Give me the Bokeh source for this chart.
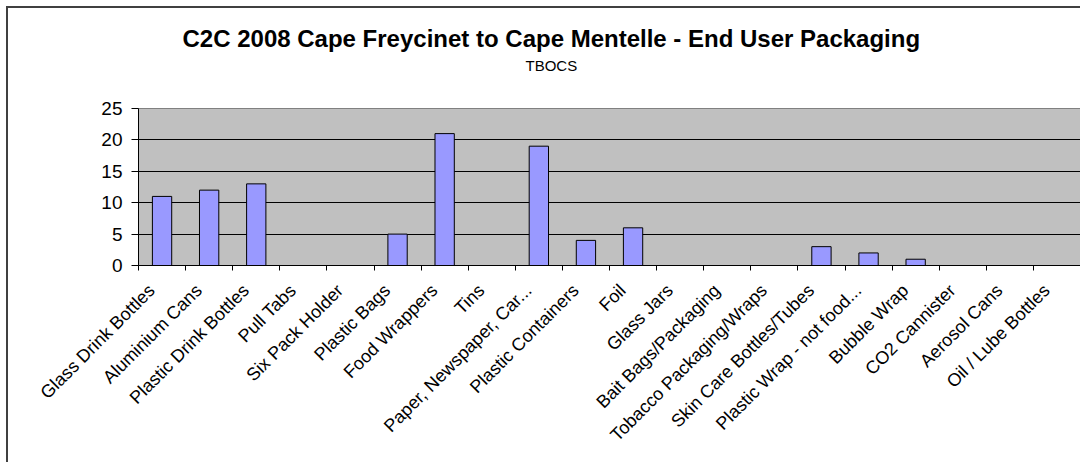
import math
from bokeh.plotting import figure
from bokeh.models import Title, FixedTicker, Range1d
from bokeh.embed import file_html
from bokeh.resources import INLINE

categories = ["Glass Drink Bottles", "Aluminium Cans", "Plastic Drink Bottles", "Pull Tabs",
              "Six Pack Holder", "Plastic Bags", "Food Wrappers", "Tins",
              "Paper, Newspaper, Car...", "Plastic Containers", "Foil", "Glass Jars",
              "Bait Bags/Packaging", "Tobacco Packaging/Wraps", "Skin Care Bottles/Tubes",
              "Plastic Wrap - not food...", "Bubble Wrap", "CO2 Cannister", "Aerosol Cans",
              "Oil / Lube Bottles"]
counts = [11, 12, 13, 0, 0, 5, 21, 0, 19, 4, 6, 0, 0, 0, 3, 2, 1, 0, 0, 0]
y_ticks = [0, 5, 10, 15, 20, 25]
title_text = "C2C 2008 Cape Freycinet to Cape Mentelle - End User Packaging"
subtitle_text = "TBOCS"

FONT = "Liberation Sans"
n = len(categories)
SHIFT = 0.22  # labels sit slightly left of the bar centres, as in the original
label_pos = list(range(n))
bar_x = [i + SHIFT for i in label_pos]

p = figure(width=1074, height=456, output_backend="svg", toolbar_location=None,
           x_range=Range1d(-0.5 + SHIFT, n - 0.5 + SHIFT), y_range=Range1d(0, 25),
           title=title_text,
           min_border_left=130, min_border_right=2, min_border_top=100, min_border_bottom=199)
p.styles = {"border-left": "2px solid #404040", "border-top": "2px solid #404040",
            "margin-left": "6px", "margin-top": "6px"}

p.title.text_font = FONT
p.title.text_font_size = "24px"
p.title.text_font_style = "bold"
p.title.text_color = "black"
p.title.align = "left"
p.title.offset = 44
p.title.standoff = -63

sub = Title(text=subtitle_text, text_font=FONT, text_font_size="15px",
            text_font_style="normal", text_color="black", align="left", offset=387, standoff=69)
p.add_layout(sub, "above")

p.background_fill_color = "#C0C0C0"
p.border_fill_color = "white"
p.outline_line_color = "#808080"
p.outline_line_width = 1

p.vbar(x=bar_x, top=counts, width=0.41, fill_color="#9999FF", line_color="black", line_width=1)

p.xgrid.visible = False
p.ygrid.ticker = FixedTicker(ticks=y_ticks)
p.ygrid.grid_line_color = "black"
p.ygrid.grid_line_width = 1

ya = p.yaxis[0]
ya.ticker = FixedTicker(ticks=y_ticks)
ya.major_tick_out = 7
ya.major_tick_in = 0
ya.minor_tick_out = 0
ya.minor_tick_in = 0
ya.axis_line_color = "black"
ya.major_tick_line_color = "black"
ya.major_label_text_font = FONT
ya.major_label_text_font_size = "19px"
ya.major_label_text_color = "black"
ya.major_label_standoff = 9

xa = p.xaxis[0]
xa.ticker = FixedTicker(ticks=label_pos, minor_ticks=[i - 0.5 + SHIFT for i in range(n + 1)])
xa.major_label_overrides = {i: c for i, c in zip(label_pos, categories)}
xa.major_label_orientation = math.pi / 4
xa.major_tick_out = 0
xa.major_tick_in = 0
xa.minor_tick_out = 5
xa.minor_tick_in = 0
xa.minor_tick_line_color = "black"
xa.axis_line_color = "black"
xa.major_label_text_font = FONT
xa.major_label_text_font_size = "18px"
xa.major_label_text_color = "black"
xa.major_label_standoff = 17

open("out.html", "w").write(file_html(p, INLINE))
